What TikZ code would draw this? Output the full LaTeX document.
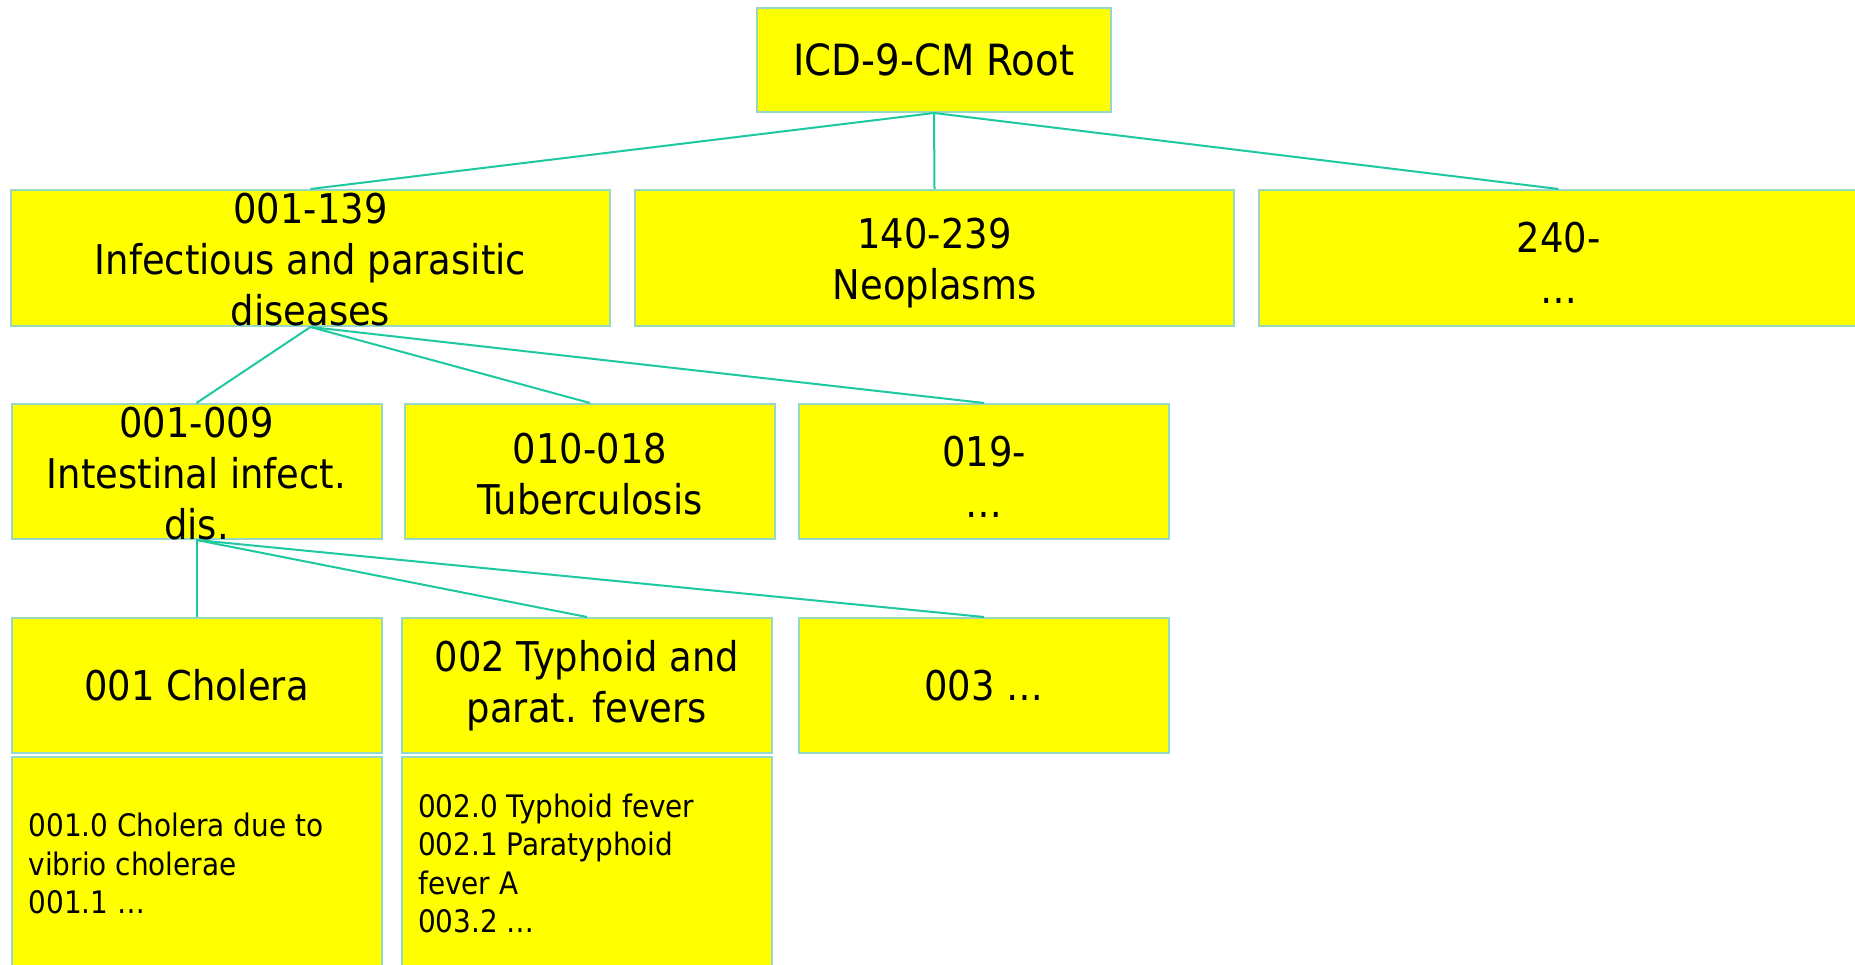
\documentclass[tikz,border=0pt]{standalone}
\usepackage{fontspec}
\setmainfont{DejaVu Sans Condensed}
\definecolor{boxfill}{RGB}{255,255,0}
\definecolor{boxedge}{RGB}{150,215,200}
\definecolor{link}{RGB}{30,200,160}
\begin{document}
\begin{tikzpicture}[x=1pt,y=-1pt,
  cell/.style={draw=boxedge,line width=2pt,fill=boxfill,inner sep=0pt,
    minimum height=#1,anchor=center},
  wide/.style={cell=136pt,minimum width=599pt},
  narrow/.style={cell=135pt,minimum width=370pt},
  big/.style={font=\fontsize{41}{51}\selectfont,align=center,inner sep=0pt},
  small/.style={font=\fontsize{31}{38.5}\selectfont,align=left,inner sep=0pt,anchor=west},
  link/.style={draw=link,line width=2pt}]
\useasboundingbox (0,0) rectangle (1855,965);

% root
\node[cell=104pt,minimum width=354pt] (root) at (934,60) {};
\node[big,font=\fontsize{43}{51}\selectfont] (root-t) at (root.center) {ICD-9-CM Root};

% chapters
\node[wide] (c1) at (310.5,258) {};
\node[wide] (c2) at (934.5,258) {};
\node[wide] (c3) at (1558.5,258) {};
\node[big] (c1-t) at ([yshift=-2pt]c1.center) {001-139\\Infectious and parasitic\\diseases};
\node[big] (c2-t) at ([yshift=-5pt]c2.center) {140-239\\Neoplasms};
\node[big] (c3-t) at ([yshift=-5pt]c3.center) {240-\\…};

% blocks
\node[narrow] (b1) at (196.5,471.5) {};
\node[narrow] (b2) at (590,471.5) {};
\node[narrow] (b3) at (984,471.5) {};
\node[big] (b1-t) at ([yshift=-2pt]b1.center) {001-009\\Intestinal infect.\\dis.};
\node[big] (b2-t) at ([yshift=-3pt]b2.center) {010-018\\Tuberculosis};
\node[big] (b3-t) at ([yshift=-5pt]b3.center) {019-\\…};

% categories
\node[narrow] (k1) at (196.5,685.5) {};
\node[narrow] (k2) at (587,685.5) {};
\node[narrow] (k3) at (984,685.5) {};
\node[big] (k1-t) at (k1.center) {001 Cholera};
\node[big] (k2-t) at (k2.center) {002 Typhoid and\\parat. fevers};
\node[big] (k3-t) at (k3.center) {003 …};

% subcategories
\node[cell=215pt,minimum width=370pt] (s1) at (196.5,864.5) {};
\node[cell=215pt,minimum width=370pt] (s2) at (587,864.5) {};
\node[small] (s1-t) at ([xshift=18pt,yshift=1pt]s1.west) {001.0 Cholera due to\\vibrio cholerae\\001.1 …};
\node[small] (s2-t) at ([xshift=17pt,yshift=1pt]s2.west) {002.0 Typhoid fever\\002.1 Paratyphoid\\fever A\\003.2 …};

% tree links
\foreach \c in {c1,c2,c3} \draw[link] (root.south) -- (\c.north);
\foreach \b in {b1,b2,b3} \draw[link] (c1.south) -- (\b.north);
\foreach \k in {k1,k2,k3} \draw[link] (b1.south) -- (\k.north);
\end{tikzpicture}
\end{document}
